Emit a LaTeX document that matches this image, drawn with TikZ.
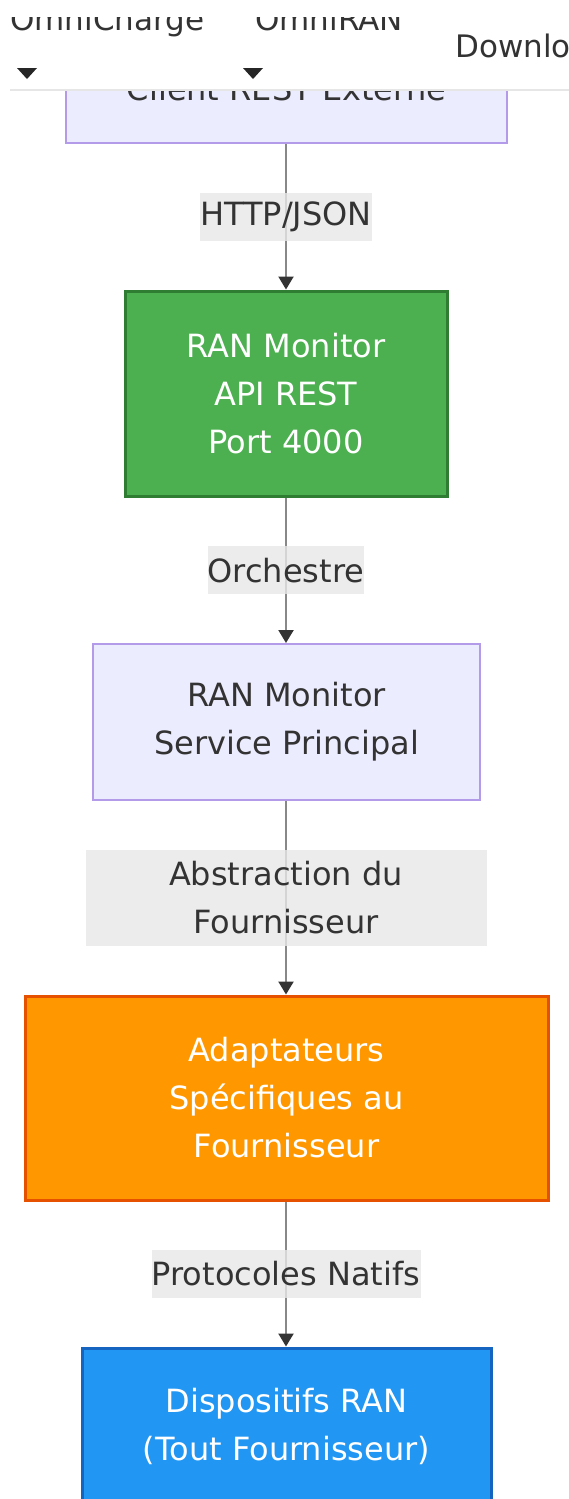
\documentclass[tikz,border=0pt]{standalone}
\usepackage{fontspec}
\setmainfont{DejaVu Sans}
\usetikzlibrary{arrows.meta}
\definecolor{txt}{HTML}{333333}
\definecolor{lav}{HTML}{ECECFF}
\definecolor{lavb}{HTML}{B49BEA}
\definecolor{grnf}{HTML}{4CAF50}
\definecolor{grnb}{HTML}{2E7D32}
\definecolor{orf}{HTML}{FF9800}
\definecolor{orb}{HTML}{E65100}
\definecolor{blf}{HTML}{2196F3}
\definecolor{blb}{HTML}{1565C0}
\definecolor{lblbg}{HTML}{E8E8E8}
\definecolor{linec}{HTML}{888888}
\definecolor{navline}{HTML}{E6E6E6}
\tikzset{
  bigfont/.style={font=\fontsize{32}{48}\selectfont},
  boxnode/.style={rectangle, inner sep=0pt, align=center, bigfont},
  plainbox/.style={boxnode, fill=lav, draw=lavb, line width=2pt, text=txt},
  greenbox/.style={boxnode, fill=grnf, draw=grnb, line width=3pt, text=white},
  orangebox/.style={boxnode, fill=orf, draw=orb, line width=3pt, text=white},
  bluebox/.style={boxnode, fill=blf, draw=blb, line width=3pt, text=white},
  edge/.style={draw=linec, line width=2.2pt, -{Triangle[length=13pt,width=15pt,color=txt]}},
  lbl/.style={fill=lblbg, fill opacity=0.8, text opacity=1, text=txt, inner sep=0pt, align=center, bigfont},
  navtext/.style={text=txt, inner sep=0pt, anchor=base west, font=\fontsize{31}{38}\selectfont},
  navtri/.style={fill=black!85, draw=none}
}
\begin{document}
\begin{tikzpicture}[x=1pt, y=-1pt]
\clip (0,0) rectangle (569,1499);
\fill[white] (0,0) rectangle (569,1499);

\node[plainbox, minimum width=441pt, minimum height=108pt] (client) at (286.5,89) {Client REST Externe};
\node[greenbox, minimum width=322pt, minimum height=205pt] (api) at (286,393.5) {RAN Monitor\\API REST\\Port 4000};
\node[plainbox, minimum width=387pt, minimum height=156pt] (svc) at (286.5,722) {RAN Monitor\\Service Principal};
\node[orangebox, minimum width=523pt, minimum height=204pt] (adapt) at (286.5,1098) {Adaptateurs\\Spécifiques au\\Fournisseur};
\node[bluebox, minimum width=409pt, minimum height=156pt] (dev) at (286.5,1426) {Dispositifs RAN\\(Tout Fournisseur)};

\draw[edge] (client.south -| 286,0) -- node[lbl, minimum width=171pt, minimum height=48pt] (l1) {HTTP/JSON} (api.north -| 286,0);
\draw[edge] (api.south -| 286,0) -- node[lbl, minimum width=156pt, minimum height=48pt] (l2) {Orchestre} (svc.north -| 286,0);
\draw[edge] (svc.south -| 286,0) -- node[lbl, minimum width=401pt, minimum height=96pt] (l3) {Abstraction du\\Fournisseur} (adapt.north -| 286,0);
\draw[edge] (adapt.south -| 286,0) -- node[lbl, minimum width=269pt, minimum height=48pt] (l4) {Protocoles Natifs} (dev.north -| 286,0);

% top navigation bar overlay
\fill[white] (0,0) rectangle (569,89);
\draw[navline, line width=2.5pt] (10,90) -- (569,90);
\begin{scope}
  \clip (0,17) rectangle (440,89);
  \node[navtext] (nav1) at (10,30) {OmniCharge};
  \node[navtext] (nav2) at (255,30) {OmniRAN};
\end{scope}
\node[navtext] (nav3) at (455,57) {Download};
\fill[navtri] (17,68) -- (37,68) -- (27,79) -- cycle;
\fill[navtri] (243,68) -- (263,68) -- (253,79) -- cycle;
\end{tikzpicture}
\end{document}
